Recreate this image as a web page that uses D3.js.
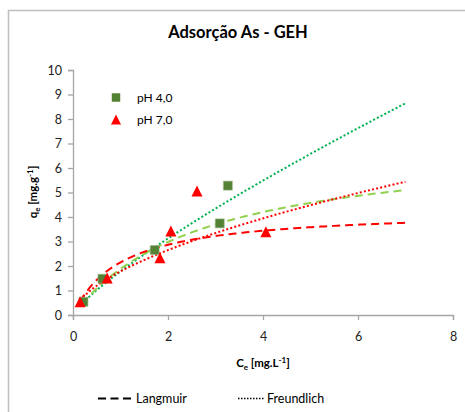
<!DOCTYPE html>
<html>
<head>
<meta charset="utf-8">
<script src="https://cdn.jsdelivr.net/npm/d3@7"></script>
<style>
  html, body { margin: 0; padding: 0; background: #fff; }
  svg { display: block; font-family: Lato, "Open Sans", sans-serif; }
</style>
</head>
<body>
<svg id="chart" width="465" height="412"></svg>
<script>
// Experimental adsorption points (Ce in mg/L, qe in mg/g)
const ph4Ce = [0.22, 0.62, 1.72, 3.09, 3.26];
const ph4Qe = [0.54, 1.48, 2.65, 3.74, 5.28];
const ph7Ce = [0.15, 0.72, 1.83, 2.06, 2.61, 4.06];
const ph7Qe = [0.54, 1.51, 2.34, 3.43, 5.06, 3.40];

// Isotherm model parameters
const langmuirPh4 = { qm: 7.12, K: 0.36 };
const langmuirPh7 = { qm: 4.30, K: 1.00 };
const freundlichPh4 = { Kf: 1.78, invN: 0.812 };
const freundlichPh7 = { Kf: 1.78, invN: 0.574 };
const ph4FitRange = [0.2, 7.0];
const ph7FitRange = [0.15, 7.0];

const xTicks = [0, 2, 4, 6, 8];
const yTicks = [0, 1, 2, 3, 4, 5, 6, 7, 8, 9, 10];

const svg = d3.select("#chart");
const W = 465, H = 412;

// chart frame
svg.append("path")
  .attr("d", `M8.5,${H} L8.5,10.5 L${W},10.5`)
  .attr("fill", "none").attr("stroke", "#bfbfbf").attr("stroke-width", 1.5);

const x = d3.scaleLinear().domain([0, 8]).range([73, 453]);
const y = d3.scaleLinear().domain([0, 10]).range([315, 70]);

// title
svg.append("text").attr("x", 238).attr("y", 38)
  .attr("text-anchor", "middle").attr("font-weight", "bold")
  .attr("font-size", 16.5).attr("fill", "#000").text("Adsorção As - GEH");

// axes
const xAxis = svg.append("g").attr("transform", `translate(0,${y(0)})`)
  .call(d3.axisBottom(x).tickValues(xTicks).tickSize(5).tickPadding(12).tickFormat(d3.format("d")));
const yAxis = svg.append("g").attr("transform", `translate(${x(0)},0)`)
  .call(d3.axisLeft(y).tickValues(yTicks).tickSize(5).tickPadding(6).tickFormat(d3.format("d")));
[xAxis, yAxis].forEach(g => {
  g.select(".domain").attr("stroke", "#a6a6a6").attr("stroke-width", 1.3);
  g.selectAll(".tick line").attr("stroke", "#a6a6a6").attr("stroke-width", 1.3);
  g.selectAll(".tick text").attr("font-size", 12.5).attr("fill", "#222")
    .attr("font-family", "Lato, 'Open Sans', sans-serif");
});

// axis titles
const xt = svg.append("text").attr("x", 263).attr("y", 367)
  .attr("text-anchor", "middle").attr("font-weight", "bold").attr("font-size", 11.5);
xt.append("tspan").text("C");
xt.append("tspan").attr("font-size", 8).attr("dy", 3).text("e");
xt.append("tspan").attr("dy", -3).text(" [mg.L");
xt.append("tspan").attr("font-size", 8).attr("dy", -4).text("-1");
xt.append("tspan").attr("dy", 4).text("]");

const yt = svg.append("text").attr("transform", "translate(37,192) rotate(-90)")
  .attr("text-anchor", "middle").attr("font-weight", "bold").attr("font-size", 11.5);
yt.append("tspan").text("q");
yt.append("tspan").attr("font-size", 8).attr("dy", 3).text("e");
yt.append("tspan").attr("dy", -3).text(" [mg.g");
yt.append("tspan").attr("font-size", 8).attr("dy", -4).text("-1");
yt.append("tspan").attr("dy", 4).text("]");

// model curves
const sample = (range) => d3.range(0, 101).map(i => range[0] + (range[1] - range[0]) * i / 100);
const langmuir = p => c => p.qm * p.K * c / (1 + p.K * c);
const freundlich = p => c => p.Kf * Math.pow(c, p.invN);
const line = f => d3.line().x(c => x(c)).y(c => y(f(c)));

const curves = [
  { f: freundlich(freundlichPh4), range: ph4FitRange, color: "#00b050", dash: "2,2.2" },
  { f: langmuir(langmuirPh4), range: ph4FitRange, color: "#92d050", dash: "8,5" },
  { f: freundlich(freundlichPh7), range: ph7FitRange, color: "#ff0000", dash: "2,2.2" },
  { f: langmuir(langmuirPh7), range: ph7FitRange, color: "#ff0000", dash: "8,5" }
];
curves.forEach(cv => {
  svg.append("path").datum(sample(cv.range))
    .attr("d", line(cv.f)).attr("fill", "none")
    .attr("stroke", cv.color).attr("stroke-width", 2)
    .attr("stroke-dasharray", cv.dash);
});

// triangle marker with its bounding box centred on the point
const boxTriangle = {
  draw(ctx, size) {
    const h = Math.sqrt(size) / 2;
    ctx.moveTo(0, -h);
    ctx.lineTo(h, h);
    ctx.lineTo(-h, h);
    ctx.closePath();
  }
};

// data markers
const sq = d3.symbol().type(d3.symbolSquare).size(81);
const tri = d3.symbol().type(boxTriangle).size(121);
svg.append("g").selectAll("path").data(ph4Ce).join("path")
  .attr("d", sq).attr("transform", (c, i) => `translate(${x(c)},${y(ph4Qe[i])})`)
  .attr("fill", "#548235").attr("stroke", "#9fb98d").attr("stroke-width", 0.6);
svg.append("g").selectAll("path").data(ph7Ce).join("path")
  .attr("d", tri).attr("transform", (c, i) => `translate(${x(c)},${y(ph7Qe[i])})`)
  .attr("fill", "#ff0000");

// series legend
svg.append("path").attr("d", d3.symbol().type(d3.symbolSquare).size(72))
  .attr("transform", "translate(116,97.5)").attr("fill", "#548235");
svg.append("path").attr("d", d3.symbol().type(boxTriangle).size(100))
  .attr("transform", "translate(116,119.5)").attr("fill", "#ff0000");
svg.append("text").attr("x", 137).attr("y", 102).attr("font-size", 12).text("pH 4,0");
svg.append("text").attr("x", 137).attr("y", 124).attr("font-size", 12).text("pH 7,0");

// model legend
svg.append("line").attr("x1", 98).attr("x2", 133).attr("y1", 398.5).attr("y2", 398.5)
  .attr("stroke", "#000").attr("stroke-width", 2).attr("stroke-dasharray", "8,4.5");
svg.append("text").attr("x", 136).attr("y", 403).attr("font-size", 12.5).text("Langmuir");
svg.append("line").attr("x1", 238).attr("x2", 264).attr("y1", 398.5).attr("y2", 398.5)
  .attr("stroke", "#000").attr("stroke-width", 1.5).attr("stroke-dasharray", "1.5,1.5");
svg.append("text").attr("x", 267).attr("y", 403).attr("font-size", 12.5).text("Freundlich");
</script>
</body>
</html>
